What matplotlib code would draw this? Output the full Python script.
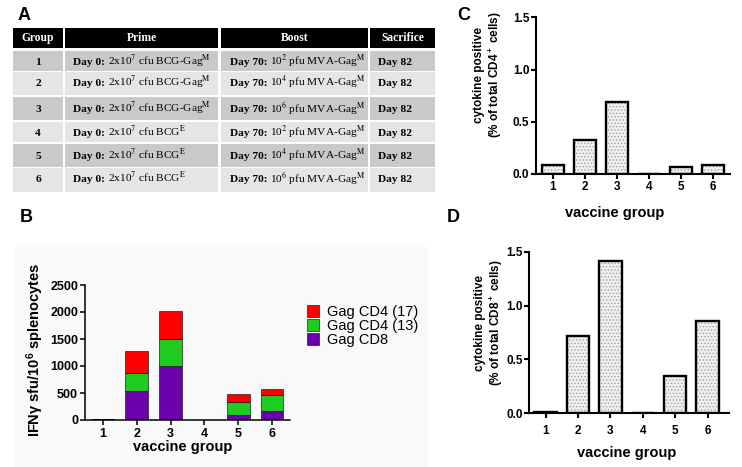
import numpy as np
import matplotlib
matplotlib.use("Agg")
import matplotlib.pyplot as plt
from matplotlib.patches import Rectangle

plt.rcParams['font.family'] = 'Liberation Sans'
plt.rcParams['mathtext.fontset'] = 'custom'
plt.rcParams['mathtext.rm'] = 'Liberation Sans:bold'
plt.rcParams['mathtext.bf'] = 'Liberation Sans:bold'
plt.rcParams['mathtext.it'] = 'Liberation Sans:bold:italic'
plt.rcParams['hatch.linewidth'] = 0.6

# --- table A ---
headers = ['Group', 'Prime', 'Boost', 'Sacrifice']
groups = ['1', '2', '3', '4', '5', '6']
prime_day = 'Day 0:'
prime_dose = ['2x10$^7$ cfu BCG-Gag$^{\\mathrm{M}}$'] * 3 + ['2x10$^7$ cfu BCG$^{\\mathrm{E}}$'] * 3
boost_day = 'Day 70:'
boost_dose = ['10$^2$ pfu MVA-Gag$^{\\mathrm{M}}$', '10$^4$ pfu MVA-Gag$^{\\mathrm{M}}$',
              '10$^6$ pfu MVA-Gag$^{\\mathrm{M}}$', '10$^2$ pfu MVA-Gag$^{\\mathrm{M}}$',
              '10$^4$ pfu MVA-Gag$^{\\mathrm{M}}$', '10$^6$ pfu MVA-Gag$^{\\mathrm{M}}$']
sacrifice = ['Day 82'] * 6

# --- panel B (IFNg ELISpot, stacked) ---
vaccine_group = [1, 2, 3, 4, 5, 6]
gag_cd8 = np.array([25, 535, 1005, 0, 100, 170])
gag_cd4_13 = np.array([0, 340, 490, 0, 240, 285])
gag_cd4_17 = np.array([0, 400, 525, 0, 135, 125])

# --- panels C / D ---
cd4_pos = [0.09, 0.33, 0.69, 0.0, 0.07, 0.09]
cd8_pos = [0.01, 0.72, 1.41, 0.0, 0.35, 0.86]

W, H = 742, 467
fig = plt.figure(figsize=(W / 100, H / 100), dpi=100)

ax0 = fig.add_axes([0, 0, 1, 1])
ax0.set_xlim(0, W)
ax0.set_ylim(H, 0)
ax0.axis('off')

# light background behind panel B
ax0.add_patch(Rectangle((15, 247), 413, 220, color='#f9f9f9', lw=0))

col_edges = [(13, 63), (65, 218), (221, 368), (370, 435)]
row_edges = [(51, 71), (72, 95), (97, 120), (122, 142), (144, 167), (168, 192)]
row_text_y = [61, 82, 108.5, 132.5, 155, 178.5]
serif = 'Liberation Serif'
fs = 8.2

for (x0, x1), h in zip(col_edges, headers):
    ax0.add_patch(Rectangle((x0, 28), x1 - x0, 20, color='black', lw=0))
    ax0.text((x0 + x1) / 2, 38, h, color='white', fontweight='bold', family=serif,
             fontsize=8.3, ha='center', va='center')

renderer = fig.canvas.get_renderer()
inv = ax0.transData.inverted()

def two_part(x, y, bold, rest):
    t = ax0.text(x, y, bold, fontweight='bold', family=serif, fontsize=fs, va='baseline')
    bb = t.get_window_extent(renderer=renderer)
    xr = inv.transform((bb.x1, bb.y0))[0]
    ax0.text(xr + 3, y, rest, family=serif, math_fontfamily='stix', fontsize=fs, va='baseline')

for i, ((y0, y1), yc) in enumerate(zip(row_edges, row_text_y)):
    shade = '#c9c9c9' if i % 2 == 0 else '#e5e5e5'
    for (x0, x1) in col_edges:
        ax0.add_patch(Rectangle((x0, y0), x1 - x0, y1 - y0, color=shade, lw=0))
    yb = yc + 3.7
    ax0.text(38, yb, groups[i], fontweight='bold', family=serif, fontsize=fs,
             ha='center', va='baseline')
    two_part(73, yb, prime_day, prime_dose[i])
    two_part(230, yb, boost_day, boost_dose[i])
    ax0.text(378, yb, sacrifice[i], fontweight='bold', family=serif, fontsize=fs, va='baseline')

for lab, x, y in [('A', 18, 16), ('B', 20, 217), ('C', 457, 15), ('D', 447, 217)]:
    ax0.text(x, y, lab, fontsize=13, fontweight='bold', va='center', ha='left')


def style(ax, lw, xpad, ypad, fsz):
    ax.set_facecolor('none')
    for s in ['top', 'right']:
        ax.spines[s].set_visible(False)
    for s in ['left', 'bottom']:
        ax.spines[s].set_linewidth(lw)
    ax.tick_params(axis='both', width=lw, length=3.5, labelsize=fsz)
    ax.tick_params(axis='x', pad=xpad)
    ax.tick_params(axis='y', pad=ypad)
    for t in ax.get_xticklabels() + ax.get_yticklabels():
        t.set_fontweight('bold')


# panel B
axB = fig.add_axes([85 / W, 1 - 420 / H, 205 / W, 135 / H])
x = np.array(vaccine_group)
wB = 0.67
b1 = axB.bar(x, gag_cd8, wB, color='#6a00aa', edgecolor='black', lw=0.4)
b2 = axB.bar(x, gag_cd4_13, wB, bottom=gag_cd8, color='#1ecb1e', edgecolor='black', lw=0.4)
b3 = axB.bar(x, gag_cd4_17, wB, bottom=gag_cd8 + gag_cd4_13, color='#ff0000', edgecolor='black', lw=0.4)
axB.set_xlim(0.47, 6.53)
axB.set_ylim(0, 2500)
axB.set_xticks(x)
axB.set_yticks([0, 500, 1000, 1500, 2000, 2500])
style(axB, 1.1, 2.5, 1.5, 9)
axB.set_ylabel('IFNγ sfu/10$^6$ splenocytes', fontsize=10.5, fontweight='bold')
axB.yaxis.set_label_coords(-0.19, 0.52)
axB.set_xlabel('vaccine group', fontsize=10.5, fontweight='bold')
axB.xaxis.set_label_coords(0.476, -0.148)
axB.legend([b3, b2, b1], ['Gag CD4 (17)', 'Gag CD4 (13)', 'Gag CD8'], frameon=False,
           fontsize=10.5, loc='upper left', bbox_to_anchor=(307 / W, 1 - 305 / H),
           bbox_transform=fig.transFigure, handlelength=0.85, handleheight=0.85,
           handletextpad=0.5, labelspacing=0.0, borderaxespad=0, borderpad=0)


def dotted_bars(ax, vals, w):
    ax.bar(x, vals, w, color='#f0f0f0', hatch='.....', edgecolor='#a0a0a0', lw=0)
    ax.bar(x, vals, w, fill=False, edgecolor='black', lw=1.7)


# panel C
axC = fig.add_axes([535.7 / W, 1 - 174 / H, 194.3 / W, 156.7 / H])
dotted_bars(axC, cd4_pos, 0.69)
axC.set_xlim(0.47, 6.54)
axC.set_ylim(0, 1.5)
axC.set_xticks(x)
axC.set_yticks([0, 0.5, 1.0, 1.5])
axC.set_yticklabels(['0.0', '0.5', '1.0', '1.5'])
style(axC, 1.5, 1.5, 1, 8.5)
axC.set_ylabel('cytokine positive\n(% of total CD4$^+$ cells)', fontsize=8.5,
               fontweight='bold', linespacing=1.1)
axC.yaxis.set_label_coords(-0.165, 0.632)
axC.set_xlabel('vaccine group', fontsize=10.5, fontweight='bold')
axC.xaxis.set_label_coords(0.408, -0.204)

# panel D
axD = fig.add_axes([529 / W, 1 - 413.3 / H, 200.3 / W, 161.6 / H])
dotted_bars(axD, cd8_pos, 0.69)
axD.set_xlim(0.49, 6.67)
axD.set_ylim(0, 1.5)
axD.set_xticks(x)
axD.set_yticks([0, 0.5, 1.0, 1.5])
axD.set_yticklabels(['0.0', '0.5', '1.0', '1.5'])
style(axD, 1.5, 5, 1, 8.5)
axD.set_ylabel('cytokine positive\n(% of total CD8$^+$ cells)', fontsize=8.5,
               fontweight='bold', linespacing=1.1)
axD.yaxis.set_label_coords(-0.12, 0.56)
axD.set_xlabel('vaccine group', fontsize=10.5, fontweight='bold')
axD.xaxis.set_label_coords(0.49, -0.202)

fig.savefig('out.png', dpi=100)
